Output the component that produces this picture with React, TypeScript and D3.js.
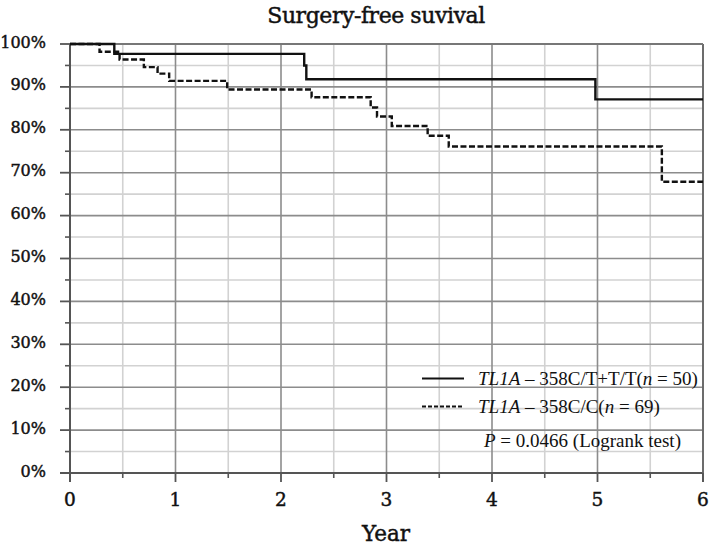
import React from "react";
import * as d3 from "d3";

const title = "Surgery-free suvival";
const xLabel = "Year";
const xTicks = [0, 1, 2, 3, 4, 5, 6];
const yTicks = [0, 10, 20, 30, 40, 50, 60, 70, 80, 90, 100];

// step times (years) and survival (%) after each step
const ctTimes = [0, 0.42, 2.22, 2.24, 4.98, 6];
const ctSurv = [100, 97.7, 95.0, 91.8, 87.1, 87.1];

const ccTimes = [0, 0.28, 0.47, 0.7, 0.83, 0.94, 1.49, 2.29, 2.85, 2.91, 3.05, 3.39, 3.59, 5.61, 6];
const ccSurv = [100, 98.2, 96.4, 94.6, 93.1, 91.4, 89.4, 87.6, 85.2, 83.1, 80.9, 78.6, 76.1, 67.9, 67.9];

const legendLabels = [
  { italic: "TL1A", rest: " \u2013 358C/T+T/T(", n: "n", tail: " = 50)" },
  { italic: "TL1A", rest: " \u2013 358C/C(", n: "n", tail: " = 69)" },
];

export default function App() {
  const W = 709, H = 547;
  const x = d3.scaleLinear().domain([0, 6]).range([70, 703]);
  const y = d3.scaleLinear().domain([0, 100]).range([473, 44]);

  const mkLine = (ts: number[], ss: number[]) =>
    d3
      .line<number>()
      .x((_, i) => x(ts[i]))
      .y((_, i) => y(ss[i]))
      .curve(d3.curveStepAfter)(ts.map((t) => t)) as string;

  const minorX = d3.range(0.5, 6, 1);
  const minorY = d3.range(5, 100, 10);
  const serif = "'DejaVu Serif', serif";
  const times = "'Liberation Serif', serif";
  const heavy = { stroke: "#111", strokeWidth: 0.45 };

  return (
    <svg width={W} height={H} style={{ position: "absolute", left: 0, top: 0, background: "#fff" }}>
      <rect width={W} height={H} fill="#fff" />
      <text x={376} y={23} textAnchor="middle" fontFamily={serif} fontSize={22} fill="#111" letterSpacing={-0.45} {...heavy}>
        {title}
      </text>
      {/* minor grid */}
      {minorX.map((v) => (
        <line key={"mx" + v} x1={x(v)} x2={x(v)} y1={y(100)} y2={y(0)} stroke="#d2d2d2" strokeWidth={1.6} />
      ))}
      {minorY.map((v) => (
        <line key={"my" + v} x1={x(0)} x2={x(6)} y1={y(v)} y2={y(v)} stroke="#d2d2d2" strokeWidth={1.6} />
      ))}
      {/* major grid */}
      {xTicks.slice(1).map((v) => (
        <line key={"gx" + v} x1={x(v)} x2={x(v)} y1={y(100)} y2={y(0)} stroke="#8c8c8c" strokeWidth={1.6} />
      ))}
      {yTicks.slice(1).map((v) => (
        <line key={"gy" + v} x1={x(0)} x2={x(6)} y1={y(v)} y2={y(v)} stroke="#8c8c8c" strokeWidth={1.6} />
      ))}
      {/* axes */}
      <line x1={x(0)} x2={x(0)} y1={y(100)} y2={y(0) + 9} stroke="#555" strokeWidth={2} />
      <line x1={x(0) - 10} x2={x(6)} y1={y(0)} y2={y(0)} stroke="#555" strokeWidth={2} />
      <line x1={x(6)} x2={x(6)} y1={y(100)} y2={y(0) + 9} stroke="#666" strokeWidth={1.8} />
      <line x1={x(0)} x2={x(6)} y1={y(100)} y2={y(100)} stroke="#777" strokeWidth={1.8} />
      {yTicks.map((v) => (
        <line key={"ty" + v} x1={x(0) - 10} x2={x(0)} y1={y(v)} y2={y(v)} stroke="#555" strokeWidth={1.8} />
      ))}
      {minorY.map((v) => (
        <line key={"tmy" + v} x1={x(0) - 5} x2={x(0)} y1={y(v)} y2={y(v)} stroke="#555" strokeWidth={1.6} />
      ))}
      {xTicks.map((v) => (
        <line key={"tx" + v} x1={x(v)} x2={x(v)} y1={y(0)} y2={y(0) + 9} stroke="#555" strokeWidth={1.8} />
      ))}
      {minorX.map((v) => (
        <line key={"tmx" + v} x1={x(v)} x2={x(v)} y1={y(0)} y2={y(0) + 5} stroke="#555" strokeWidth={1.6} />
      ))}
      {yTicks.map((v) => (
        <text key={"ly" + v} x={46} y={y(v) + 3.5} textAnchor="end" fontFamily={serif} fontSize={16} fill="#111" {...heavy}>
          {v + "%"}
        </text>
      ))}
      {xTicks.map((v) => (
        <text key={"lx" + v} x={x(v)} y={506} textAnchor="middle" fontFamily={serif} fontSize={18.5} fill="#111" {...heavy}>
          {v}
        </text>
      ))}
      <text x={386} y={541} textAnchor="middle" fontFamily={serif} fontSize={21.5} fill="#111" {...heavy}>
        {xLabel}
      </text>
      {/* curves */}
      <path d={mkLine(ccTimes, ccSurv)} fill="none" stroke="#111" strokeWidth={2.4} strokeDasharray="6,2.5" />
      <path d={mkLine(ctTimes, ctSurv)} fill="none" stroke="#111" strokeWidth={2.4} />
      {/* legend */}
      <line x1={422} x2={464} y1={378.5} y2={378.5} stroke="#111" strokeWidth={2} />
      <line x1={422} x2={464} y1={406.5} y2={406.5} stroke="#111" strokeWidth={2} strokeDasharray="4,2" />
      {legendLabels.map((l, i) => (
        <text key={"lg" + i} x={478} y={385 + i * 28} fontFamily={times} fontSize={19} fill="#111">
          <tspan fontStyle="italic">{l.italic}</tspan>
          {l.rest}
          <tspan fontStyle="italic">{l.n}</tspan>
          {l.tail}
        </text>
      ))}
      <text x={484} y={447} fontFamily={times} fontSize={19} fill="#111">
        <tspan fontStyle="italic">P</tspan>
        {" = 0.0466 (Logrank test)"}
      </text>
    </svg>
  );
}
